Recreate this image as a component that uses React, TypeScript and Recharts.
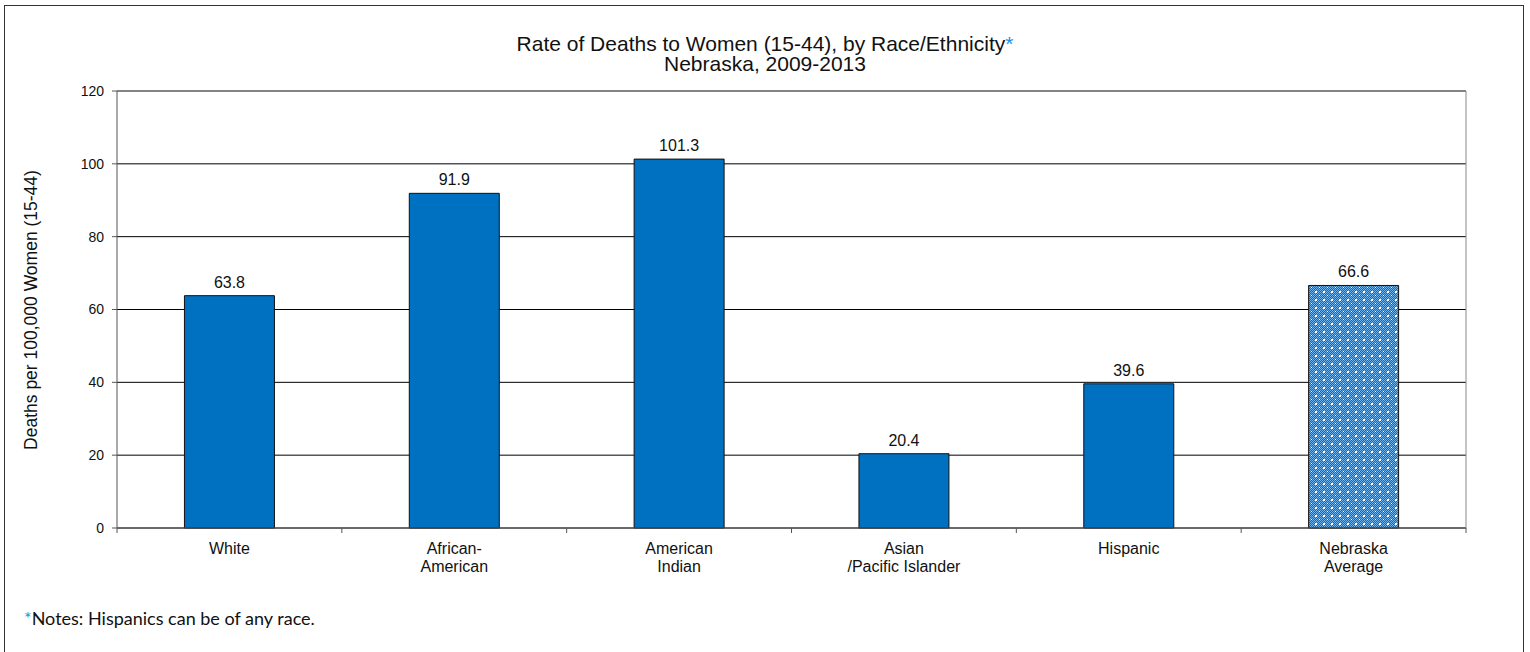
import React from "react";
import { BarChart, Bar, XAxis, YAxis, CartesianGrid, ReferenceLine, LabelList, Cell } from "recharts";

const categories = ["White", "African-\nAmerican", "American\nIndian", "Asian\n/Pacific Islander", "Hispanic", "Nebraska\nAverage"];
const rates = [63.8, 91.9, 101.3, 20.4, 39.6, 66.6];
const yTicks = [0, 20, 40, 60, 80, 100, 120];
const patterned = [false, false, false, false, false, true];

const data = categories.map((c, i) => ({ name: c, value: rates[i] }));

const W = 1530;
const H = 652;
const M = { top: 91, right: 64, bottom: 64, left: 57 };
const Y_W = 60;
const X_H = 60;
const plotW = W - M.left - Y_W - M.right;
const band = plotW / categories.length;
const FONT = "'Liberation Sans', Arial, sans-serif";
const BLUE = "#0070C0";

const XTick = (props: any) => {
  const { x, y, payload, index } = props;
  const lines = String(payload.value).split("\n");
  const axisY = y - 8;
  return (
    <g>
      <line x1={x - band / 2} x2={x - band / 2} y1={axisY} y2={axisY + 5} stroke="#555" />
      {index === categories.length - 1 && (
        <line x1={x + band / 2} x2={x + band / 2} y1={axisY} y2={axisY + 5} stroke="#555" />
      )}
      {lines.map((l, i) => (
        <text key={i} x={x} y={axisY + 26 + i * 18} textAnchor="middle" fontSize={16} fill="#111" fontFamily={FONT}>
          {l}
        </text>
      ))}
    </g>
  );
};

const checker: [number, number][] = [];
for (let yy = 0; yy < 8; yy++) for (let xx = 0; xx < 8; xx++) if ((xx + yy) % 2 === 0) checker.push([xx, yy]);

export default function App() {
  return (
    <div style={{ position: "absolute", left: 0, top: 0, width: W, height: H, background: "#fff", overflow: "hidden" }}>
      <div style={{ position: "absolute", left: 4, top: 5, width: 1518, height: 700, border: "1px solid #333" }} />
      <div style={{ position: "absolute", left: 0, top: 34, width: W, textAlign: "center", fontFamily: FONT, fontSize: 21, lineHeight: "20px", color: "#111" }}>
        Rate of Deaths to Women (15-44), by Race/Ethnicity<span style={{ color: "#1f8fe0" }}>*</span>
        <br />
        Nebraska, 2009-2013
      </div>
      <div style={{ position: "absolute", left: 24, top: 607, fontFamily: "Lato, 'Open Sans', sans-serif", fontSize: 18, lineHeight: "22px", color: "#111" }}>
        <span style={{ color: "#1f8fe0" }}>*</span>Notes: Hispanics can be of any race.
      </div>
      <div style={{ position: "absolute", left: 0, top: 0 }}>
        <BarChart width={W} height={H} data={data} margin={M} barCategoryGap="30%">
          <defs>
            <pattern id="dots" width="8" height="8" patternUnits="userSpaceOnUse">
              <rect width="8" height="8" fill={BLUE} />
              {checker.map(([px, py], k) => (
                <rect key={k} x={px} y={py} width="1" height="1" fill="#6fb0e6" />
              ))}
              <rect x="3" y="3" width="2" height="2" fill="#fff" />
              <rect x="7" y="7" width="1" height="1" fill="#fff" />
            </pattern>
          </defs>
          <CartesianGrid vertical={false} stroke="#000" />
          <CartesianGrid
            horizontal={false}
            stroke="#888"
            verticalCoordinatesGenerator={({ offset }: any) => [offset.left + offset.width]}
          />
          <ReferenceLine y={120} stroke="#888" />
          <XAxis
            dataKey="name"
            interval={0}
            height={X_H}
            tick={<XTick />}
            tickLine={false}
            axisLine={{ stroke: "#555" }}
          />
          <YAxis
            width={Y_W}
            domain={[0, 120]}
            ticks={yTicks}
            interval={0}
            tickSize={5}
            tickMargin={8}
            tick={{ fontSize: 14, fill: "#111", fontFamily: FONT }}
            tickLine={{ stroke: "#555" }}
            axisLine={{ stroke: "#555" }}
            label={{
              content: () => (
                <text x={32} y={310} transform="rotate(-90 32 310)" textAnchor="middle" dominantBaseline="middle" fontSize={17.5} fill="#111" fontFamily={FONT}>
                  Deaths per 100,000 Women (15-44)
                </text>
              ),
            }}
          />
          <Bar dataKey="value" isAnimationActive={false} stroke="#111" strokeWidth={1}>
            {data.map((d, i) => (
              <Cell key={i} fill={patterned[i] ? "url(#dots)" : BLUE} />
            ))}
            <LabelList dataKey="value" position="top" offset={8} fontSize={16} fill="#111" fontFamily={FONT} formatter={(v: any) => Number(v).toFixed(1)} />
          </Bar>
        </BarChart>
      </div>
    </div>
  );
}
